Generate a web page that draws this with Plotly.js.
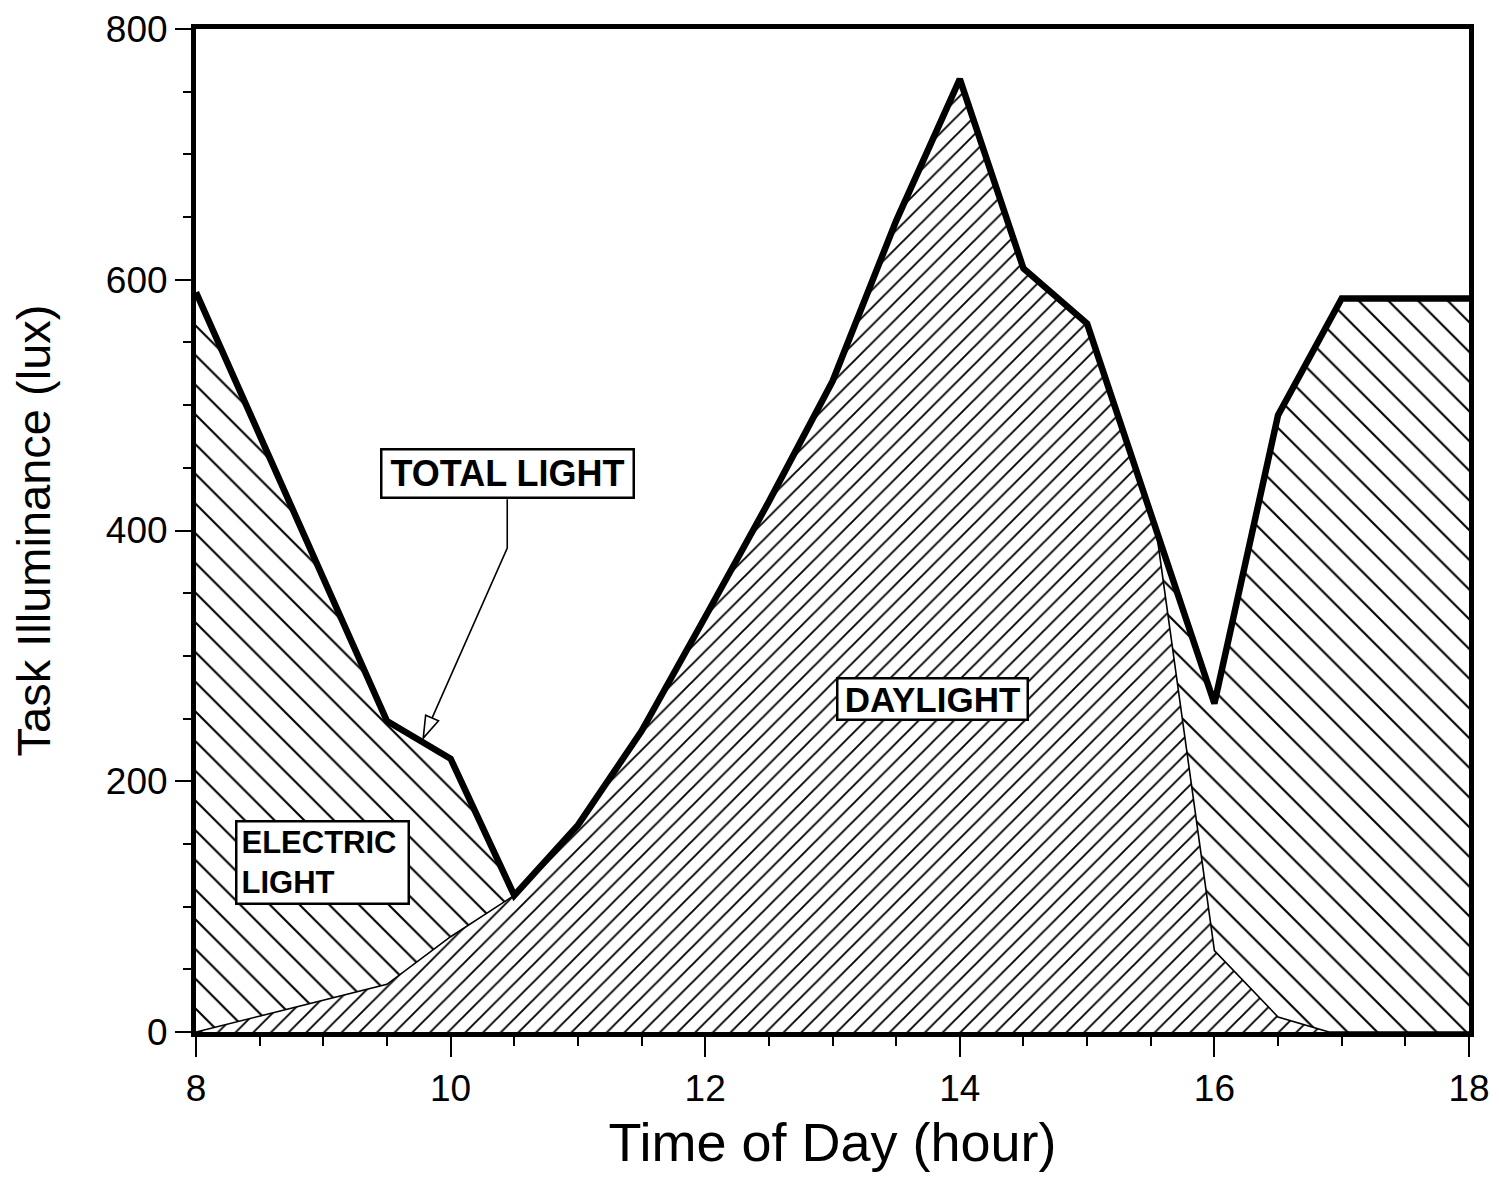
<!DOCTYPE html>
<html>
<head>
<meta charset="utf-8">
<script src="https://cdn.plot.ly/plotly-3.0.1.min.js"></script>
<style>
  html, body { margin: 0; padding: 0; background: #ffffff; }
  #chart { width: 1499px; height: 1178px; }
</style>
</head>
<body>
<div id="chart"></div>
<script>
// ---- data ----
const totalHour = [8, 9.5, 10, 10.5, 11, 11.5, 12, 12.5, 13, 13.5, 14, 14.5, 15, 16, 16.5, 17, 18];
const totalLux  = [590, 248, 218, 109, 165, 240, 331, 423, 519, 647, 760, 609, 565, 262, 492, 585, 585];

const daylightHour = [8, 9.5, 10, 10.5, 11, 11.5, 12, 12.5, 13, 13.5, 14, 14.5, 15, 15.55, 16, 16.5, 16.9, 18];
const daylightLux  = [0, 38, 76, 109, 165, 240, 331, 423, 519, 647, 760, 609, 565, 395, 65, 12, 0, 0];

const xTicks = [8, 10, 12, 14, 16, 18];
const yTicks = [0, 200, 400, 600, 800];

const labelTotal = "TOTAL LIGHT";
const labelDay = "DAYLIGHT";
const labelElectric = "ELECTRIC<br>LIGHT";

const FONT = "Liberation Sans, Arial, Helvetica, sans-serif";

const traces = [
  {
    x: daylightHour, y: daylightLux, type: "scatter", mode: "lines",
    line: { color: "#000", width: 1.6 },
    fill: "tozeroy", fillcolor: "#ffffff",
    fillpattern: { shape: "/", size: 12.5, solidity: 0.15, fgcolor: "#000", bgcolor: "#ffffff" },
    hoverinfo: "skip", showlegend: false
  },
  {
    x: totalHour, y: totalLux, type: "scatter", mode: "lines",
    line: { color: "rgba(0,0,0,0)", width: 0 },
    fill: "tonexty", fillcolor: "#ffffff",
    fillpattern: { shape: "\\", size: 21, solidity: 0.1, fgcolor: "#000", bgcolor: "#ffffff" },
    hoverinfo: "skip", showlegend: false
  },
  {
    x: totalHour, y: totalLux, type: "scatter", mode: "lines",
    line: { color: "#000", width: 6.5 },
    hoverinfo: "skip", showlegend: false
  }
];

const layout = {
  width: 1499, height: 1178,
  paper_bgcolor: "#ffffff", plot_bgcolor: "#ffffff",
  margin: { l: 196, r: 30, t: 29, b: 146, pad: 0 },
  showlegend: false,
  font: { family: FONT, color: "#000" },
  xaxis: {
    range: [8, 18], tickvals: xTicks, ticktext: xTicks.map(String),
    ticks: "outside", ticklen: 20, tickwidth: 2, tickcolor: "#000",
    minor: { dtick: 0.5, tick0: 8, ticks: "outside", ticklen: 9, tickwidth: 2, tickcolor: "#000", showgrid: false },
    showline: true, linewidth: 5, linecolor: "#000", mirror: true,
    showgrid: false, zeroline: false,
    tickfont: { family: FONT, size: 37, color: "#000" },
    title: { text: "Time of Day (hour)", font: { family: FONT, size: 54, color: "#000" }, standoff: 16 }
  },
  yaxis: {
    range: [0, 800], tickvals: yTicks, ticktext: yTicks.map(String),
    ticks: "outside", ticklen: 16, tickwidth: 2, tickcolor: "#000",
    minor: { dtick: 50, tick0: 0, ticks: "outside", ticklen: 8, tickwidth: 2, tickcolor: "#000", showgrid: false },
    showline: true, linewidth: 5, linecolor: "#000", mirror: true,
    showgrid: false, zeroline: false,
    tickfont: { family: FONT, size: 37, color: "#000" },
    title: { text: "Task Illuminance (lux)", font: { family: FONT, size: 47, color: "#000" }, standoff: 42 }
  },
  annotations: [
    {
      x: 10.445, y: 445.8, xref: "x", yref: "y", text: "<b>" + labelTotal + "</b>", showarrow: false,
      font: { family: FONT, size: 36, color: "#000" },
      bgcolor: "#ffffff", bordercolor: "#000", borderwidth: 2.5, borderpad: 1,
      width: 248, height: 44, align: "center"
    },
    {
      x: 13.786, y: 266, xref: "x", yref: "y", text: "<b>" + labelDay + "</b>", showarrow: false,
      font: { family: FONT, size: 35, color: "#000" },
      bgcolor: "#ffffff", bordercolor: "#000", borderwidth: 2.5, borderpad: 1,
      width: 186, height: 37, align: "center"
    },
    {
      x: 8.99, y: 134.8, xref: "x", yref: "y", text: "<b>" + labelElectric + "</b>", showarrow: false,
      font: { family: FONT, size: 31, color: "#000" },
      bgcolor: "#ffffff", bordercolor: "#000", borderwidth: 2.5, borderpad: 4,
      width: 162, height: 72, align: "left"
    }
  ],
  shapes: [
    {
      type: "path", xref: "x", yref: "y",
      path: "M 10.445 425 L 10.445 386 L 9.855 250.5",
      line: { color: "#000", width: 1.6 }
    },
    {
      type: "path", xref: "x", yref: "y",
      path: "M 9.785 234.4 L 9.905 248.2 L 9.804 252.7 Z",
      fillcolor: "#ffffff", line: { color: "#000", width: 1.6 }
    }
  ]
};

Plotly.newPlot("chart", traces, layout, { staticPlot: true, displayModeBar: false });
</script>
</body>
</html>
